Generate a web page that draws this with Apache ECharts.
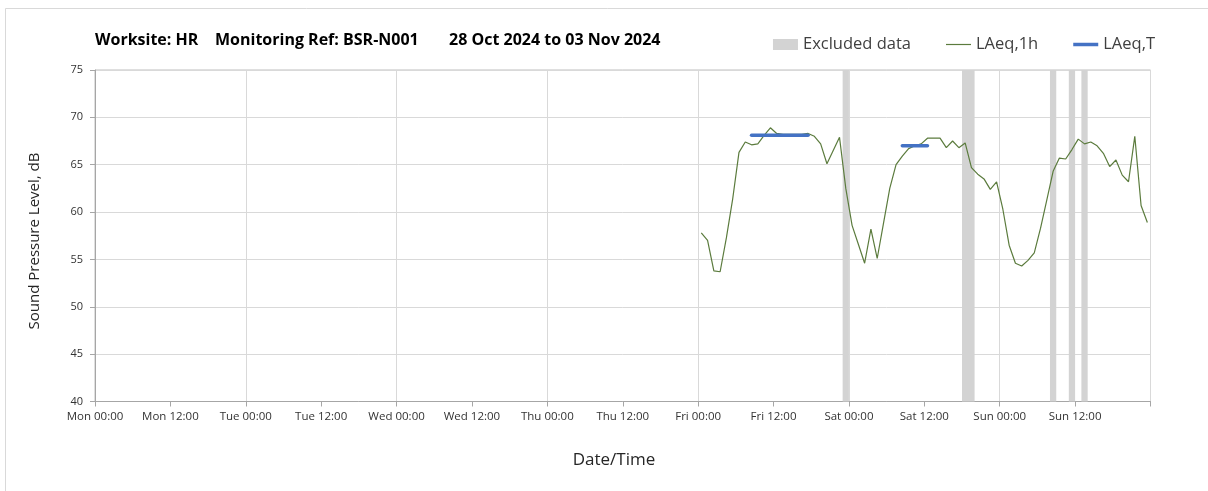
<!DOCTYPE html>
<html>
<head>
<meta charset="utf-8">
<script src="https://cdn.jsdelivr.net/npm/echarts@6/dist/echarts.min.js"></script>
<style>
  html, body { margin: 0; padding: 0; background: #ffffff; }
  #chart { width: 1208px; height: 491px; }
</style>
</head>
<body>
<div id="chart"></div>
<script>
// Time axis runs in hours from Mon 28 Oct 2024 00:00 (0) to Mon 04 Nov 2024 00:00 (168)
const xTickLabels = [
  'Mon 00:00', 'Mon 12:00', 'Tue 00:00', 'Tue 12:00', 'Wed 00:00', 'Wed 12:00',
  'Thu 00:00', 'Thu 12:00', 'Fri 00:00', 'Fri 12:00', 'Sat 00:00', 'Sat 12:00',
  'Sun 00:00', 'Sun 12:00'
];

// Hourly LAeq,1h, first value at Fri 00:30, one value per hour
const laeq1hStartHour = 96.5;
const laeq1h = [
  57.8, 57.0, 53.8, 53.7, 57.3, 61.4, 66.3, 67.4, 67.1, 67.2, 68.1, 68.9,
  68.3, 68.2, 68.2, 68.2, 68.2, 68.3, 68.0, 67.2, 65.1, 66.5, 67.9, 62.5,
  58.6, 56.6, 54.6, 58.2, 55.1, 58.8, 62.5, 65.0, 65.9, 66.7, 67.0, 67.2,
  67.8, 67.8, 67.8, 66.8, 67.5, 66.8, 67.3, 64.7, 64.0, 63.5, 62.4, 63.2,
  60.3, 56.5, 54.6, 54.3, 54.9, 55.7, 58.3, 61.3, 64.3, 65.7, 65.6, 66.6,
  67.7, 67.2, 67.4, 67.0, 66.2, 64.8, 65.5, 63.9, 63.2, 68.0, 60.7, 58.9
];

// LAeq,T over the working periods (hour positions of first and last hourly value)
const laeqTStart = [104.5, 128.5];
const laeqTEnd = [113.5, 132.5];
const laeqTLevel = [68.1, 67.0];

// Excluded data periods (hours)
const excludedStart = [119, 138, 152, 155, 157];
const excludedEnd = [120, 140, 153, 156, 158];

const FONT = '"Open Sans", Lato, sans-serif';
const GREEN = '#5b7b3d';
const BLUE = '#4472c4';
const GREY_BAND = '#d3d3d3';

const chart = echarts.init(document.getElementById('chart'), null, { renderer: 'canvas' });

const laeqTSeries = laeqTStart.map((s, i) => ({
  name: 'LAeq,T',
  type: 'line',
  xAxisIndex: 0,
  symbol: 'none',
  color: BLUE,
  lineStyle: { color: BLUE, width: 3.5, cap: 'round' },
  z: 4,
  data: [[s, laeqTLevel[i]], [laeqTEnd[i], laeqTLevel[i]]]
}));

const titleStyle = { fontSize: 16, fontWeight: 'bold', color: '#000', fontFamily: FONT };

const option = {
  backgroundColor: '#ffffff',
  animation: false,
  textStyle: { fontFamily: FONT },
  title: [
    { text: 'Worksite: HR', left: 90, top: 27, textStyle: titleStyle },
    { text: 'Monitoring Ref: BSR-N001', left: 210, top: 27, textStyle: titleStyle },
    { text: '28 Oct 2024 to 03 Nov 2024', left: 444, top: 27, textStyle: titleStyle }
  ],
  graphic: [
    {
      type: 'rect',
      shape: { x: 5.5, y: 8.5, width: 1400, height: 700 },
      style: { fill: null, stroke: '#d9d9d9', lineWidth: 1 },
      silent: true
    },
    {
      type: 'text',
      x: 35,
      y: 241,
      rotation: Math.PI / 2,
      silent: true,
      style: {
        text: 'Sound Pressure Level, dB',
        fontSize: 15,
        fontFamily: FONT,
        fill: '#262626',
        align: 'center',
        verticalAlign: 'middle'
      }
    },
    {
      type: 'text',
      x: 614,
      y: 460,
      silent: true,
      style: {
        text: 'Date/Time',
        fontSize: 17,
        fontFamily: FONT,
        fill: '#262626',
        align: 'center',
        verticalAlign: 'middle'
      }
    }
  ],
  legend: {
    right: 48,
    top: 31,
    itemWidth: 25,
    itemHeight: 11,
    itemGap: 35,
    symbolKeepAspect: true,
    textStyle: { fontSize: 16.5, color: '#404040', fontFamily: FONT },
    data: [
      { name: 'Excluded data', icon: 'rect' },
      { name: 'LAeq,1h', icon: 'path://M0,0 L25,0 L25,1.2 L0,1.2 Z' },
      { name: 'LAeq,T', icon: 'path://M0,0 L25,0 L25,3.5 L0,3.5 Z' }
    ]
  },
  grid: {
    left: 95,
    right: 57.5,
    top: 70,
    bottom: 89.5,
    show: true,
    borderColor: '#bfbfbf',
    borderWidth: 1,
    backgroundColor: 'transparent'
  },
  xAxis: [
    {
      type: 'value',
      min: 0,
      max: 168,
      interval: 12,
      axisLine: { lineStyle: { color: '#a6a6a6' } },
      axisTick: { show: true, length: 5, lineStyle: { color: '#a6a6a6' } },
      axisLabel: {
        fontSize: 11.5,
        color: '#333',
        margin: 9,
        fontFamily: FONT,
        formatter: v => xTickLabels[Math.round(v / 12)] || ''
      },
      splitLine: { show: false }
    },
    {
      type: 'value',
      position: 'bottom',
      min: 0,
      max: 168,
      interval: 24,
      axisLine: { show: false },
      axisTick: { show: false },
      axisLabel: { show: false },
      splitLine: { show: true, lineStyle: { color: '#d9d9d9', width: 1 } }
    }
  ],
  yAxis: {
    type: 'value',
    min: 40,
    max: 75,
    interval: 5,
    axisLine: { show: true, lineStyle: { color: '#a6a6a6' } },
    axisTick: { show: true, length: 5, lineStyle: { color: '#a6a6a6' } },
    axisLabel: { fontSize: 11, color: '#333', margin: 12, fontFamily: FONT },
    splitLine: { show: true, lineStyle: { color: '#d9d9d9', width: 1 } }
  },
  series: [
    {
      name: 'Excluded data',
      type: 'line',
      xAxisIndex: 0,
      color: GREY_BAND,
      symbol: 'none',
      data: [],
      z: 1,
      markArea: {
        silent: true,
        itemStyle: { color: GREY_BAND, opacity: 1 },
        data: excludedStart.map((s, i) => [{ xAxis: s }, { xAxis: excludedEnd[i] }])
      }
    },
    {
      name: 'LAeq,1h',
      type: 'line',
      xAxisIndex: 0,
      symbol: 'none',
      color: GREEN,
      lineStyle: { color: GREEN, width: 1.2 },
      z: 3,
      data: laeq1h.map((v, i) => [laeq1hStartHour + i, v])
    },
    ...laeqTSeries
  ]
};

chart.setOption(option);
</script>
</body>
</html>
